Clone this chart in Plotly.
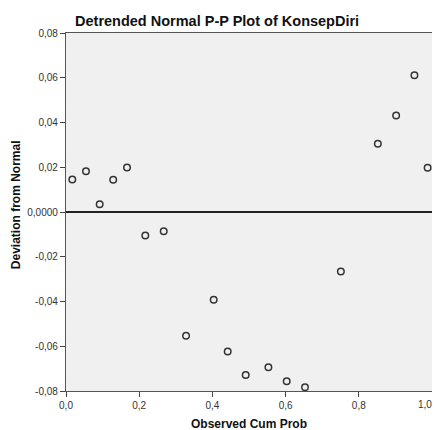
import plotly.graph_objects as go

observed_cum_prob = [0.0172, 0.0546, 0.092, 0.129, 0.1667, 0.2167, 0.267, 0.328, 0.4035,
                     0.4418, 0.491, 0.553, 0.603, 0.653, 0.751, 0.852, 0.902, 0.952, 0.988]
deviation = [0.0145, 0.0182, 0.0035, 0.0144, 0.0199, -0.0105, -0.0086, -0.0553, -0.0392,
             -0.0624, -0.0728, -0.0694, -0.0756, -0.0783, -0.0266, 0.0305, 0.0431, 0.0611, 0.0198]

x_ticks = [0.0, 0.2, 0.4, 0.6, 0.8, 1.0]
x_tick_labels = ["0,0", "0,2", "0,4", "0,6", "0,8", "1,0"]
y_ticks = [-0.08, -0.06, -0.04, -0.02, 0.0, 0.02, 0.04, 0.06, 0.08]
y_tick_labels = ["-0,08", "-0,06", "-0,04", "-0,02", "0,0000", "0,02", "0,04", "0,06", "0,08"]

fig = go.Figure()
fig.add_trace(go.Scatter(
    x=observed_cum_prob, y=deviation, mode="markers",
    marker=dict(symbol="circle-open", size=6.5, color="#333333", line=dict(width=1.5, color="#333333")),
    showlegend=False, hoverinfo="x+y"))

font = "Liberation Sans, Arial, sans-serif"
# the last x tick label sits flush against the right edge (as in the reference), so draw it as an annotation
shown_x_labels = x_tick_labels[:-1] + [""]

fig.update_layout(
    width=432, height=422,
    margin=dict(l=58, r=8, t=25, b=39, autoexpand=False),
    paper_bgcolor="white", plot_bgcolor="#F0F0F0",
    font=dict(family=font, size=10, color="#333333"),
    title=dict(text="<b>Detrended Normal P-P Plot of KonsepDiri</b>", x=0.484, xanchor="center",
               y=0.97, yanchor="middle", font=dict(size=14.5, color="#111111", family=font)),
    xaxis=dict(range=[0, 1], tickvals=x_ticks, ticktext=shown_x_labels, ticks="outside", ticklen=5,
               tickcolor="#444444", showgrid=False, zeroline=False, showline=True, linecolor="#555555",
               linewidth=1.3, mirror=True, automargin=False),
    yaxis=dict(range=[-0.08, 0.08], tickvals=y_ticks, ticktext=y_tick_labels, ticks="outside", ticklen=5,
               tickcolor="#444444", showgrid=False, zeroline=True, zerolinecolor="#222222", zerolinewidth=1.5,
               showline=True, linecolor="#555555", linewidth=1.3, mirror=True, automargin=False),
    annotations=[
        dict(text=x_tick_labels[-1], xref="x", yref="paper", x=x_ticks[-1], y=0, xanchor="right",
             yanchor="top", xshift=2, yshift=-6, showarrow=False,
             font=dict(size=10, color="#333333", family=font)),
        dict(text="<b>Observed Cum Prob</b>", xref="paper", yref="paper", x=0.5, y=-0.0922,
             xanchor="center", yanchor="middle", showarrow=False,
             font=dict(size=12, color="#111111", family=font)),
        dict(text="<b>Deviation from Normal</b>", xref="paper", yref="paper", x=0, xshift=-50, y=0.519,
             xanchor="center", yanchor="middle", textangle=-90, showarrow=False,
             font=dict(size=12, color="#111111", family=font)),
    ],
)
fig.write_html("out.html")
